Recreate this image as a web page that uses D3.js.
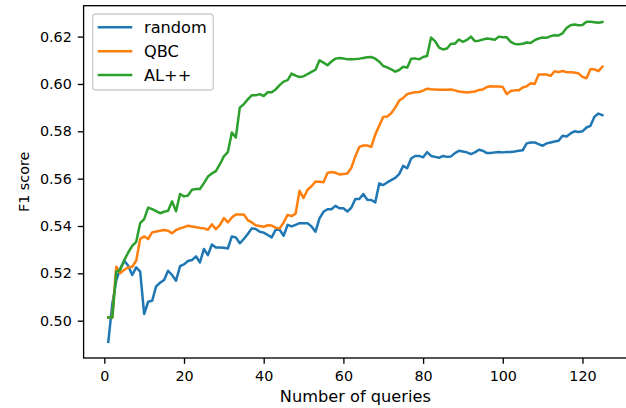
<!DOCTYPE html>
<html>
<head>
<meta charset="utf-8">
<script src="https://cdn.jsdelivr.net/npm/d3@7"></script>
<style>
  body { margin: 0; background: #fff; }
  text { font-family: "DejaVu Sans", sans-serif; }
</style>
</head>
<body>
<script>

// series values (x = 1..125)
var seriesNames = ["random", "QBC", "AL++"];
var seriesColors = ["#1f77b4", "#ff7f0e", "#2ca02c"];

var randomScores = [
  0.491, 0.507, 0.517, 0.522, 0.5253, 0.5232, 0.5193, 0.5225, 0.5207, 0.5028,
  0.508, 0.5084, 0.5145, 0.516, 0.5172, 0.5211, 0.5193, 0.5169, 0.523, 0.5238,
  0.5252, 0.5256, 0.5272, 0.5246, 0.5303, 0.5277, 0.5322, 0.5309, 0.5309, 0.5308,
  0.5305, 0.5356, 0.5352, 0.5327, 0.5345, 0.5366, 0.539, 0.5387, 0.5376, 0.5372,
  0.5362, 0.5352, 0.5384, 0.5384, 0.5359, 0.5405, 0.5398, 0.5405, 0.5412, 0.5412,
  0.5412, 0.5398, 0.5376, 0.5432, 0.546, 0.5471, 0.5471, 0.5485, 0.5475, 0.5475,
  0.5461, 0.5478, 0.5514, 0.5514, 0.5535, 0.5511, 0.551, 0.55, 0.558, 0.5573,
  0.5584, 0.5594, 0.5603, 0.5619, 0.5654, 0.5644, 0.5685, 0.5696, 0.5696, 0.569,
  0.5712, 0.5696, 0.5692, 0.5688, 0.5696, 0.5692, 0.5694, 0.5708, 0.5718, 0.5715,
  0.5711, 0.5704, 0.5711, 0.5722, 0.5718, 0.5708, 0.5708, 0.5711, 0.5713, 0.5711,
  0.5713, 0.5713, 0.5715, 0.5718, 0.572, 0.5749, 0.5753, 0.5753, 0.5746, 0.5739,
  0.5749, 0.5753, 0.5757, 0.576, 0.5781, 0.5778, 0.5791, 0.58, 0.5797, 0.58,
  0.5816, 0.5823, 0.5862, 0.5875, 0.5868
];

var qbcScores = [
  0.5013, 0.5013, 0.5228, 0.5201, 0.5215, 0.5225, 0.5228, 0.5253, 0.5345, 0.5356,
  0.5345, 0.5373, 0.5377, 0.538, 0.5383, 0.538, 0.5369, 0.5383, 0.539, 0.5395,
  0.5401, 0.5398, 0.5395, 0.5392, 0.539, 0.5384, 0.5407, 0.5387, 0.5404, 0.5433,
  0.5415, 0.5436, 0.5449, 0.5449, 0.5449, 0.5425, 0.5415, 0.5403, 0.54, 0.5397,
  0.5403, 0.5402, 0.5393, 0.539, 0.5415, 0.5447, 0.5442, 0.5452, 0.5549, 0.5518,
  0.5553, 0.5568, 0.5588, 0.5587, 0.5585, 0.5624, 0.5628, 0.5625, 0.5618, 0.562,
  0.5622, 0.5646, 0.5695, 0.5734, 0.574, 0.574, 0.5734, 0.5786, 0.5824, 0.5861,
  0.5863, 0.5876, 0.59, 0.593, 0.5941, 0.5957, 0.5962, 0.5965, 0.5966, 0.5972,
  0.598, 0.5978, 0.5977, 0.5976, 0.5976, 0.5976, 0.5977, 0.5973, 0.5968, 0.5966,
  0.5964, 0.5966, 0.5968, 0.5975, 0.5977, 0.5987, 0.599, 0.5989, 0.5989, 0.5987,
  0.5957, 0.597, 0.5973, 0.5973, 0.5985, 0.599, 0.6003, 0.6, 0.604, 0.604,
  0.604, 0.6034, 0.6054, 0.605, 0.6055, 0.605, 0.605, 0.6048, 0.6045, 0.603,
  0.6024, 0.6062, 0.6062, 0.6054, 0.6073
];

var alppScores = [
  0.5013, 0.5013, 0.5207, 0.5215, 0.5256, 0.5288, 0.5316, 0.5333, 0.5412, 0.5429,
  0.5478, 0.5471, 0.5463, 0.5454, 0.546, 0.5464, 0.5504, 0.5462, 0.5535, 0.5525,
  0.5529, 0.5553, 0.5556, 0.5556, 0.5581, 0.5609, 0.5622, 0.5632, 0.5661, 0.5694,
  0.5712, 0.5795, 0.5774, 0.59, 0.5914, 0.5935, 0.5952, 0.5952, 0.5957, 0.5949,
  0.5965, 0.5965, 0.5977, 0.5995, 0.601, 0.6016, 0.6044, 0.6035, 0.6029, 0.6032,
  0.6042, 0.6051, 0.606, 0.61, 0.609, 0.6079, 0.6095, 0.6107, 0.611, 0.6108,
  0.6104, 0.6104, 0.6105, 0.6107, 0.611, 0.6113, 0.6114, 0.6107, 0.6094, 0.6076,
  0.607, 0.6062, 0.6052, 0.6059, 0.6073, 0.6069, 0.6107, 0.6108, 0.6104, 0.6114,
  0.6118, 0.6196, 0.6181, 0.6154, 0.6146, 0.615, 0.617, 0.617, 0.6188, 0.6178,
  0.6186, 0.62, 0.6181, 0.6183, 0.6188, 0.6192, 0.619, 0.6187, 0.62, 0.6197,
  0.6197, 0.6178, 0.6169, 0.6168, 0.617, 0.6175, 0.6173, 0.6185, 0.6192, 0.6196,
  0.6195, 0.6202, 0.6206, 0.6205, 0.6214, 0.6236, 0.6248, 0.6251, 0.6248, 0.6249,
  0.6263, 0.6263, 0.6261, 0.6259, 0.6262
];

var xTicks = [0, 20, 40, 60, 80, 100, 120];
var yTicks = [0.50, 0.52, 0.54, 0.56, 0.58, 0.60, 0.62];

var allSeries = [randomScores, qbcScores, alppScores];

// svg size and plot area (right spine falls just outside the picture)
var svgWidth = 626;
var svgHeight = 408;
var plot = { left: 83.6, right: 627.1, top: 5.7, bottom: 358 };

var tickFont = 14.3;
var labelFont = 16.2;
var legendFont = 16.2;
var tickLen = 5.83;
var lineW = 2.5;

var svg = d3.select("body")
  .append("svg")
  .attr("width", svgWidth)
  .attr("height", svgHeight);

// matplotlib style 5% margins
var nPoints = randomScores.length;
var xPad = (nPoints - 1) * 0.05;
var yMin = d3.min(allSeries, s => d3.min(s));
var yMax = d3.max(allSeries, s => d3.max(s));
var yPad = (yMax - yMin) * 0.05;

var xScale = d3.scaleLinear()
  .domain([1 - xPad, nPoints + xPad])
  .range([plot.left, plot.right]);

var yScale = d3.scaleLinear()
  .domain([yMin - yPad, yMax + yPad])
  .range([plot.bottom, plot.top]);

// lines
var line = d3.line()
  .x((d, i) => xScale(i + 1))
  .y(d => yScale(d));

allSeries.forEach(function(series, k) {
  svg.append("path")
    .datum(series)
    .attr("fill", "none")
    .attr("stroke", seriesColors[k])
    .attr("stroke-width", lineW)
    .attr("stroke-linejoin", "round")
    .attr("stroke-linecap", "square")
    .attr("d", line);
});

// axes
var bottomAxis = d3.axisBottom(xScale)
  .tickValues(xTicks)
  .tickSize(tickLen)
  .tickPadding(7.3)
  .tickSizeOuter(0);

var leftAxis = d3.axisLeft(yScale)
  .tickValues(yTicks)
  .tickFormat(d3.format(".2f"))
  .tickSize(tickLen)
  .tickPadding(6)
  .tickSizeOuter(0);

var gx = svg.append("g")
  .attr("transform", `translate(0, ${plot.bottom})`)
  .call(bottomAxis);

var gy = svg.append("g")
  .attr("transform", `translate(${plot.left}, 0)`)
  .call(leftAxis);

[gx, gy].forEach(function(g) {
  g.select(".domain").remove();
  g.selectAll("line").attr("stroke", "#000").attr("stroke-width", 1.33);
  g.selectAll("text")
    .attr("fill", "#000")
    .style("font-size", tickFont + "px")
    .style("font-family", "DejaVu Sans");
});

// frame (spines)
svg.append("rect")
  .attr("x", plot.left)
  .attr("y", plot.top)
  .attr("width", plot.right - plot.left)
  .attr("height", plot.bottom - plot.top)
  .attr("fill", "none")
  .attr("stroke", "#000")
  .attr("stroke-width", 1.33);

// axis titles
svg.append("text")
  .attr("x", (plot.left + plot.right) / 2)
  .attr("y", 401.5)
  .attr("text-anchor", "middle")
  .style("font-size", labelFont + "px")
  .text("Number of queries");

svg.append("text")
  .attr("transform", `translate(28.5, ${(plot.top + plot.bottom) / 2}) rotate(-90)`)
  .attr("text-anchor", "middle")
  .style("font-size", tickFont + "px")
  .text("F1 score");

// legend
var legend = svg.append("g");

legend.append("rect")
  .attr("x", 92.7)
  .attr("y", 14)
  .attr("width", 120.6)
  .attr("height", 76)
  .attr("rx", 3.3)
  .attr("fill", "#fff")
  .attr("fill-opacity", 0.8)
  .attr("stroke", "#cccccc")
  .attr("stroke-width", 1.33);

seriesNames.forEach(function(name, k) {
  var ly = 27.3 + k * 23.9;
  legend.append("line")
    .attr("x1", 97.7)
    .attr("x2", 132.3)
    .attr("y1", ly)
    .attr("y2", ly)
    .attr("stroke", seriesColors[k])
    .attr("stroke-width", lineW);
  legend.append("text")
    .attr("x", 144)
    .attr("y", ly + 6)
    .style("font-size", legendFont + "px")
    .text(name);
});

</script>
</body>
</html>
